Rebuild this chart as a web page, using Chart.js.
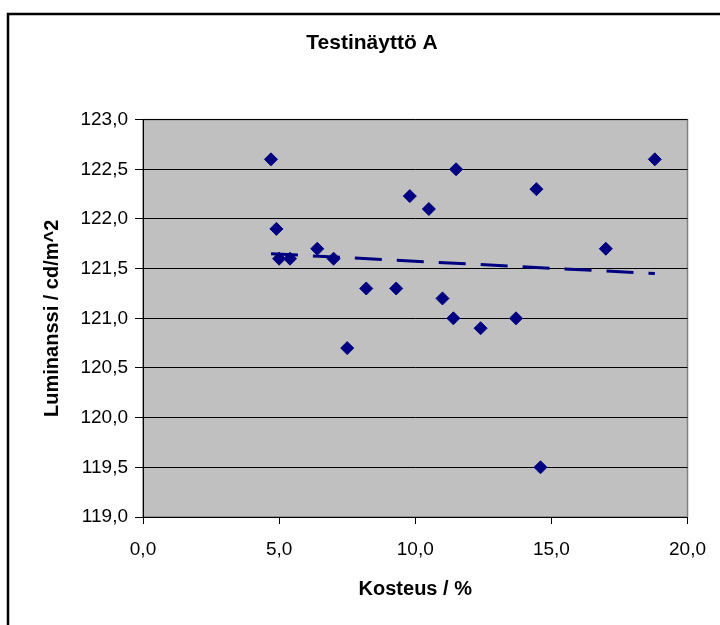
<!DOCTYPE html>
<html>
<head>
<meta charset="utf-8">
<script src="https://cdn.jsdelivr.net/npm/chart.js@4/dist/chart.umd.min.js"></script>
<style>
  html, body { margin: 0; padding: 0; background: #fff; }
  #wrap { width: 720px; height: 625px; }
</style>
</head>
<body>
<div id="wrap"><canvas id="chart"></canvas></div>
<script>
// Measured points (moisture %, luminance cd/m^2)
const kosteus = [4.7, 4.9, 5.0, 5.4, 6.4, 7.0, 7.5, 8.2, 9.3, 9.8, 10.5, 11.0, 11.4, 11.5, 12.4, 13.7, 14.45, 14.6, 17.0, 18.8];
const luminanssi = [122.6, 121.9, 121.6, 121.6, 121.7, 121.6, 120.7, 121.3, 121.3, 122.23, 122.1, 121.2, 121.0, 122.5, 120.9, 121.0, 122.3, 119.5, 121.7, 122.6];
// Linear trendline end points
const trendX = [4.7, 18.8];
const trendY = [121.65, 121.45];
const fontFamily = "'Liberation Sans', Arial, sans-serif";

const fmt = (v) => v.toFixed(1).replace(".", ",");

// Excel-style frame and grey plot area
const framePlugin = {
  id: "frame",
  beforeDraw(chart) {
    const { ctx, chartArea: a } = chart;
    ctx.save();
    ctx.fillStyle = "#fff";
    ctx.fillRect(0, 0, chart.width, chart.height);
    ctx.strokeStyle = "#000";
    ctx.lineWidth = 2.5;
    ctx.strokeRect(8, 14, chart.width + 20, chart.height + 20);
    ctx.fillStyle = "#c0c0c0";
    ctx.fillRect(a.left, a.top, a.right - a.left, a.bottom - a.top);
    ctx.strokeStyle = "#808080";
    ctx.lineWidth = 1.5;
    ctx.strokeRect(a.left, a.top, a.right - a.left, a.bottom - a.top);
    ctx.restore();
  },
};

const points = kosteus.map((x, i) => ({ x: x, y: luminanssi[i] }));
const trend = trendX.map((x, i) => ({ x: x, y: trendY[i] }));

new Chart(document.getElementById("chart"), {
  type: "scatter",
  data: {
    datasets: [
      {
        type: "line",
        label: "Trend",
        data: trend,
        borderColor: "#000080",
        borderWidth: 3,
        borderDash: [27, 15],
        pointRadius: 0,
        fill: false,
      },
      {
        label: "Testinäyttö A",
        data: points,
        pointStyle: "rectRot",
        pointRadius: 6.5,
        pointHoverRadius: 6.5,
        backgroundColor: "#000080",
        borderColor: "#000080",
        borderWidth: 1,
      },
    ],
  },
  plugins: [framePlugin],
  options: {
    responsive: true,
    maintainAspectRatio: false,
    animation: false,
    layout: { padding: { left: 53, right: 29, top: 0, bottom: 0 } },
    plugins: {
      legend: { display: false },
      tooltip: { enabled: false },
      title: {
        display: true,
        text: "Testinäyttö A",
        color: "#000",
        font: { family: fontFamily, size: 21, weight: "bold" },
        padding: { top: 30.4, bottom: 64 },
      },
    },
    scales: {
      x: {
        type: "linear",
        min: 0,
        max: 20,
        ticks: {
          stepSize: 5,
          color: "#000",
          padding: 14,
          font: { family: fontFamily, size: 19 },
          callback: (v) => fmt(v),
        },
        grid: { drawOnChartArea: false, drawTicks: true, tickLength: 7, color: "#000" },
        border: { color: "#000", width: 1 },
        title: {
          display: true,
          text: "Kosteus / %",
          color: "#000",
          font: { family: fontFamily, size: 20, weight: "bold" },
          padding: { top: 0, bottom: 24 },
        },
        afterFit(scale) {
          scale.height = 108;
        },
      },
      y: {
        type: "linear",
        min: 119,
        max: 123,
        ticks: {
          stepSize: 0.5,
          color: "#000",
          padding: 7,
          font: { family: fontFamily, size: 19 },
          callback: (v) => fmt(v),
        },
        grid: { color: "#000", tickLength: 8, tickColor: "#000" },
        border: { color: "#000", width: 1 },
        title: {
          display: true,
          text: "Luminanssi / cd/m^2",
          color: "#000",
          font: { family: fontFamily, size: 20, weight: "bold" },
          padding: { top: -13, bottom: 0 },
        },
        afterFit(scale) {
          scale.width = 90;
        },
      },
    },
  },
});
</script>
</body>
</html>
